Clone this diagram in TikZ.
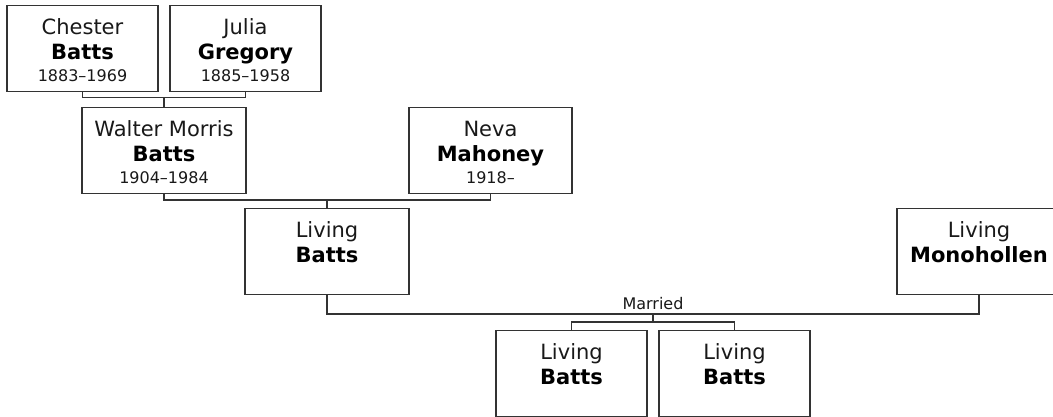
\documentclass[tikz,border=0pt]{standalone}
\usepackage{fontspec}
\setmainfont{DejaVu Sans}
\begin{document}
\begin{tikzpicture}[x=1pt,y=-1pt,
  box/.style={draw=black!80, line width=1.4pt, fill=white, minimum height=85.5pt, inner sep=0pt, anchor=north},
  given/.style={anchor=base, inner sep=0pt, font=\fontsize{21}{25}\selectfont, text=black!90},
  surname/.style={anchor=base, inner sep=0pt, font=\fontsize{21}{25}\selectfont\bfseries, text=black},
  dates/.style={anchor=base, inner sep=0pt, font=\fontsize{16}{19}\selectfont, text=black!90},
  link/.style={draw=black!80, line width=1.4pt},
]
\clip (0,0) rectangle (1053,416);
\fill[white] (0,0) rectangle (1053,416);

% boxes
\node[box, minimum width=151pt] (chester) at (82.5,5) {};
\node[box, minimum width=151pt] (julia) at (245.5,5) {};
\node[box, minimum width=164pt] (walter) at (164,107) {};
\node[box, minimum width=163pt] (neva) at (490.5,107) {};
\node[box, minimum width=164pt] (living) at (327,208) {};
\node[box, minimum width=164pt] (mono) at (979,208) {};
\node[box, minimum width=151pt] (child1) at (571.5,330) {};
\node[box, minimum width=151pt] (child2) at (734.5,330) {};

% texts
\node[given] (chester-a) at ([yshift=-29.6pt]chester.north) {Chester};
\node[surname] (chester-b) at ([yshift=-54.6pt]chester.north) {Batts};
\node[dates] (chester-c) at ([yshift=-76.8pt]chester.north) {1883–1969};

\node[given] (julia-a) at ([yshift=-29.6pt]julia.north) {Julia};
\node[surname] (julia-b) at ([yshift=-54.6pt]julia.north) {Gregory};
\node[dates] (julia-c) at ([yshift=-76.8pt]julia.north) {1885–1958};

\node[given] (walter-a) at ([yshift=-29.6pt]walter.north) {Walter Morris};
\node[surname] (walter-b) at ([yshift=-54.6pt]walter.north) {Batts};
\node[dates] (walter-c) at ([yshift=-76.8pt]walter.north) {1904–1984};

\node[given] (neva-a) at ([yshift=-29.6pt]neva.north) {Neva};
\node[surname] (neva-b) at ([yshift=-54.6pt]neva.north) {Mahoney};
\node[dates] (neva-c) at ([yshift=-76.8pt]neva.north) {1918–};

\node[given] (living-a) at ([yshift=-29.6pt]living.north) {Living};
\node[surname] (living-b) at ([yshift=-54.6pt]living.north) {Batts};

\node[given] (mono-a) at ([yshift=-29.6pt]mono.north) {Living};
\node[surname] (mono-b) at ([yshift=-54.6pt]mono.north) {Monohollen};

\node[given] (child1-a) at ([yshift=-29.6pt]child1.north) {Living};
\node[surname] (child1-b) at ([yshift=-54.6pt]child1.north) {Batts};

\node[given] (child2-a) at ([yshift=-29.6pt]child2.north) {Living};
\node[surname] (child2-b) at ([yshift=-54.6pt]child2.north) {Batts};

% connectors
\coordinate (bus1) at (164,97.5);
\draw[link] (chester.south) |- (bus1) -| (julia.south);
\draw[link] (bus1) -- (walter.north);

\coordinate (bus2) at (327,200);
\draw[link] (walter.south) |- (bus2) -| (neva.south);
\draw[link] (bus2) -- (living.north);

\coordinate (bus3) at (653,314);
\draw[link] (living.south) |- (bus3) -| (mono.south);
\node[dates] (married) at (653,309.8) {Married};

\coordinate (bus4) at (653,322);
\draw[link] (bus3) -- (bus4);
\draw[link] (child1.north) |- (bus4) -| (child2.north);
\end{tikzpicture}
\end{document}
